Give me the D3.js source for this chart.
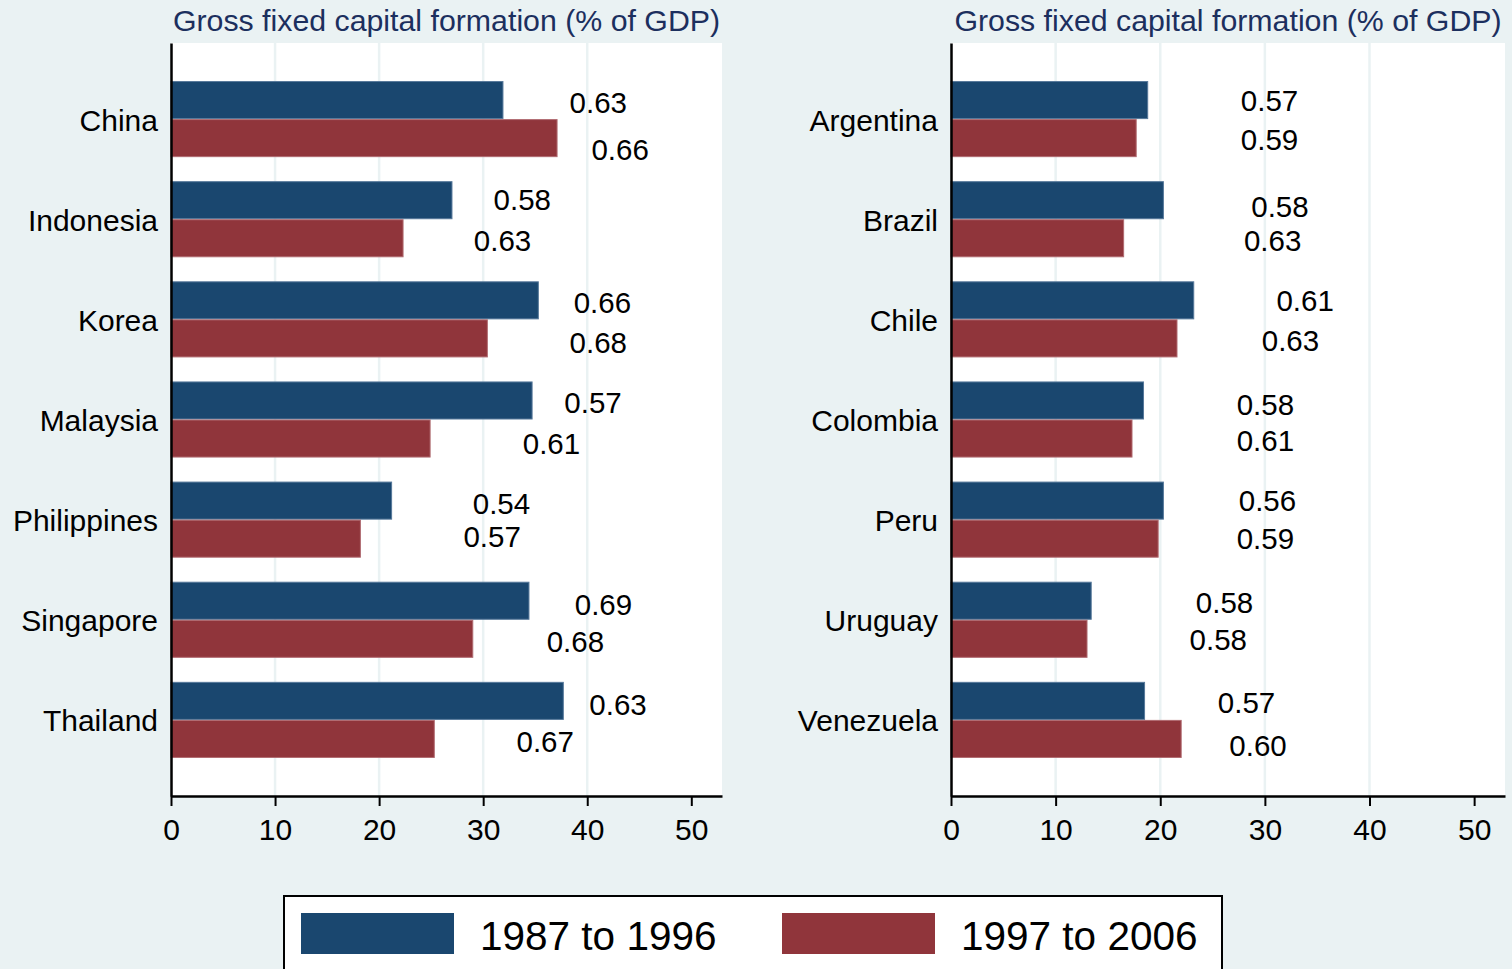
<!DOCTYPE html>
<html>
<head>
<meta charset="utf-8">
<script src="https://cdn.jsdelivr.net/npm/d3@7"></script>
<style>
  body { margin: 0; background: #eaf2f3; }
  svg { display: block; font-family: "Liberation Sans", Arial, sans-serif; }
</style>
</head>
<body>
<svg id="chart" width="1512" height="969"></svg>
<script>
// data
const periods = ["1987 to 1996", "1997 to 2006"];
const xTicks = [0, 10, 20, 30, 40, 50];

const asiaCountries = ["China", "Indonesia", "Korea", "Malaysia", "Philippines", "Singapore", "Thailand"];
const asia8796 = [31.9, 27.0, 35.3, 34.7, 21.2, 34.4, 37.7];
const asia9706 = [37.1, 22.3, 30.4, 24.9, 18.2, 29.0, 25.3];
const asiaText8796 = ["0.63", "0.58", "0.66", "0.57", "0.54", "0.69", "0.63"];
const asiaText9706 = ["0.66", "0.63", "0.68", "0.61", "0.57", "0.68", "0.67"];
// where the ratio labels sit (x in axis units, y as share of a category step from its centre)
const asiaTextX8796 = [38.3, 31.0, 38.7, 37.8, 29.0, 38.8, 40.2];
const asiaTextX9706 = [40.4, 29.1, 38.3, 33.8, 28.1, 36.1, 33.2];
const asiaTextY8796 = [-0.17, -0.20, -0.17, -0.17, -0.16, -0.15, -0.15];
const asiaTextY9706 = [0.30, 0.21, 0.23, 0.24, 0.17, 0.22, 0.21];

const latamCountries = ["Argentina", "Brazil", "Chile", "Colombia", "Peru", "Uruguay", "Venezuela"];
const latam8796 = [18.8, 20.3, 23.2, 18.4, 20.3, 13.4, 18.5];
const latam9706 = [17.7, 16.5, 21.6, 17.3, 19.8, 13.0, 22.0];
const latamText8796 = ["0.57", "0.58", "0.61", "0.58", "0.56", "0.58", "0.57"];
const latamText9706 = ["0.59", "0.63", "0.63", "0.61", "0.59", "0.58", "0.60"];
const latamTextX8796 = [27.7, 28.7, 31.1, 27.3, 27.5, 23.4, 25.5];
const latamTextX9706 = [27.7, 28.0, 29.7, 27.3, 27.3, 22.8, 26.6];
const latamTextY8796 = [-0.19, -0.13, -0.19, -0.15, -0.19, -0.17, -0.17];
const latamTextY9706 = [0.20, 0.21, 0.21, 0.21, 0.19, 0.20, 0.25];

const colors = ["#1a476f", "#90353b"];
const outline = ["#56789a", "#b06a70"];
const bg = "#eaf2f3";

const svg = d3.select("#chart");
svg.append("rect").attr("width", 1512).attr("height", 969).attr("fill", bg);

const plotTop = 43, plotBottom = 796;

function drawPanel(left, right, countries, v1, v2, t1, t2, tx1, tx2, ty1, ty2) {
    const g = svg.append("g");

    const x = d3.scaleLinear().domain([0, 52.95]).range([left, right]);
    const y = d3.scaleBand()
        .domain(countries)
        .range([plotTop, plotBottom])
        .paddingInner(0.24)
        .paddingOuter(0.38);
    const ySub = d3.scaleBand().domain([0, 1]).range([0, y.bandwidth()]);

    // plot region
    g.append("rect")
        .attr("x", left).attr("y", plotTop)
        .attr("width", right - left).attr("height", plotBottom - plotTop)
        .attr("fill", "white");

    // grid
    g.selectAll(".grid")
        .data(xTicks.filter(d => d > 0 && d < 50))
        .enter()
        .append("line")
        .attr("x1", d => x(d)).attr("x2", d => x(d))
        .attr("y1", plotTop).attr("y2", plotBottom)
        .attr("stroke", bg)
        .attr("stroke-width", 2.5);

    // title
    g.append("text")
        .attr("x", (left + right) / 2)
        .attr("y", 31)
        .attr("text-anchor", "middle")
        .attr("font-size", 30.3)
        .attr("fill", "#1c2f5e")
        .text("Gross fixed capital formation (% of GDP)");

    const rows = countries.map((c, i) => ({
        country: c,
        vals: [v1[i], v2[i]],
        texts: [t1[i], t2[i]],
        tx: [tx1[i], tx2[i]],
        ty: [ty1[i], ty2[i]]
    }));

    // bars
    const groups = g.selectAll(".grp")
        .data(rows)
        .enter()
        .append("g")
        .attr("transform", d => `translate(0,${y(d.country)})`);

    groups.selectAll("rect")
        .data(d => d.vals.map((v, k) => ({ v: v, k: k })))
        .enter()
        .append("rect")
        .attr("x", x(0))
        .attr("y", d => ySub(d.k) + 0.5)
        .attr("width", d => x(d.v) - x(0))
        .attr("height", ySub.bandwidth() - 1)
        .attr("fill", d => colors[d.k])
        .attr("stroke", d => outline[d.k])
        .attr("stroke-width", 1);

    // ratio labels
    groups.selectAll(".ratio")
        .data(d => d.texts.map((t, k) => ({ t: t, x: d.tx[k], y: d.ty[k] })))
        .enter()
        .append("text")
        .attr("class", "ratio")
        .attr("x", d => x(d.x))
        .attr("y", d => y.bandwidth() / 2 + d.y * y.step())
        .attr("dy", "0.36em")
        .attr("font-size", 29.5)
        .attr("fill", "black")
        .text(d => d.t);

    // x axis
    const xAxis = d3.axisBottom(x)
        .tickValues(xTicks)
        .tickSize(10)
        .tickSizeOuter(0)
        .tickPadding(13);
    const ax = g.append("g")
        .attr("transform", `translate(0,${plotBottom})`)
        .call(xAxis);
    ax.select(".domain").attr("stroke", "black").attr("stroke-width", 2.5);
    ax.selectAll(".tick line").attr("stroke", "black").attr("stroke-width", 2);
    ax.selectAll(".tick text")
        .attr("font-size", 30)
        .attr("font-family", "Liberation Sans, Arial, sans-serif")
        .attr("fill", "black");

    // y axis
    const yAxis = d3.axisLeft(y).tickSize(0).tickPadding(13);
    const ay = g.append("g")
        .attr("transform", `translate(${left},0)`)
        .call(yAxis);
    ay.select(".domain").attr("stroke", "black").attr("stroke-width", 2.5);
    ay.selectAll(".tick text")
        .attr("font-size", 30)
        .attr("dy", "0.38em")
        .attr("font-family", "Liberation Sans, Arial, sans-serif")
        .attr("fill", "black");
}

drawPanel(171, 722, asiaCountries, asia8796, asia9706, asiaText8796, asiaText9706,
    asiaTextX8796, asiaTextX9706, asiaTextY8796, asiaTextY9706);
drawPanel(951, 1505, latamCountries, latam8796, latam9706, latamText8796, latamText9706,
    latamTextX8796, latamTextX9706, latamTextY8796, latamTextY9706);

// legend
const legend = svg.append("g");
legend.append("rect")
    .attr("x", 284).attr("y", 896)
    .attr("width", 938).attr("height", 90)
    .attr("fill", "white")
    .attr("stroke", "black")
    .attr("stroke-width", 2);

const legX = [301, 782];
const items = legend.selectAll(".item")
    .data(periods)
    .enter()
    .append("g")
    .attr("transform", (d, i) => `translate(${legX[i]},913)`);

items.append("rect")
    .attr("width", 153).attr("height", 41)
    .attr("fill", (d, i) => colors[i]);

items.append("text")
    .attr("x", 179)
    .attr("y", 22)
    .attr("dy", "0.36em")
    .attr("font-size", 40.5)
    .attr("fill", "black")
    .text(d => d);
</script>
</body>
</html>
